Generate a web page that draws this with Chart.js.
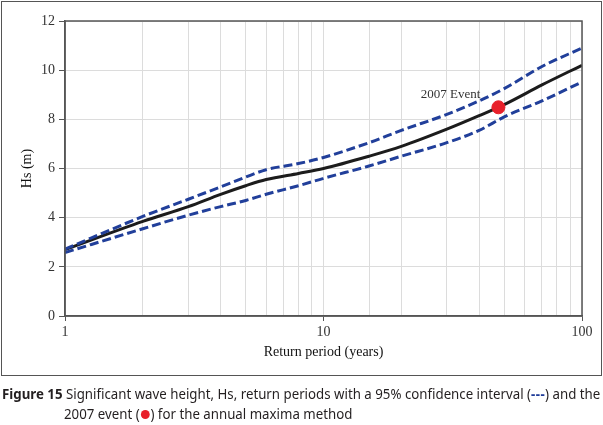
<!DOCTYPE html>
<html>
<head>
<meta charset="utf-8">
<script src="https://cdn.jsdelivr.net/npm/chart.js@4.4.0/dist/chart.umd.min.js"></script>
<style>
  html, body { margin: 0; padding: 0; background: #fff; }
  body { width: 603px; height: 425px; position: relative; overflow: hidden; }
  #frame { position: absolute; left: 1px; top: 1px; width: 599px; height: 373px; border: 1.5px solid #555; }
  #wrap { position: absolute; left: 0; top: 0; width: 603px; height: 376px; }
  #cap { position: absolute; left: 2px; top: 383px; font-family: "Noto Sans", sans-serif; font-size: 15px; line-height: 20px; color: #231f20; white-space: nowrap; transform-origin: 0 0; }
  #cap b { font-weight: 700; }
  .dash { color: #1f3c99; font-weight: 700; letter-spacing: 0.5px; }
  .dot { display: inline-block; width: 9px; height: 9px; border-radius: 50%; background: #e8202a; margin: 0 1px; vertical-align: 0px; }
</style>
</head>
<body>
<div id="wrap"><canvas id="c"></canvas></div>
<div id="frame"></div>
<div id="cap"><div id="c1"><b id="fig">Figure 15</b> Significant wave height, Hs, return periods with a 95% confidence interval (<span class="dash">---</span>) and the</div><div id="c2">2007 event (<span class="dot"></span>) for the annual maxima method</div></div>
<script>
// Data
const returnPeriods = [1, 2, 3, 4, 5, 6, 8, 10, 15, 20, 30, 40, 50, 70, 100];
const hsFit =         [2.7, 3.85, 4.45, 4.95, 5.3, 5.55, 5.8, 6.0, 6.5, 6.9, 7.6, 8.15, 8.6, 9.4, 10.2];
const hsUpper =       [2.72, 4.05, 4.75, 5.25, 5.65, 5.95, 6.2, 6.45, 7.05, 7.55, 8.2, 8.75, 9.25, 10.15, 10.9];
const hsLower =       [2.58, 3.55, 4.1, 4.45, 4.7, 4.95, 5.3, 5.6, 6.1, 6.5, 7.05, 7.55, 8.1, 8.75, 9.52];
const eventX = [47.5];
const eventY = [8.49];
const eventLabel = "2007 Event";
const yTicks = [0, 2, 4, 6, 8, 10, 12];
const xMajorTicks = [1, 10, 100];

const pts = (xs, ys) => xs.map((x, i) => ({ x: x, y: ys[i] }));

const frameBorder = {
  id: 'frameBorder',
  afterDatasetsDraw(chart) {
    const { ctx, chartArea: a } = chart;
    ctx.save();
    ctx.strokeStyle = '#555';
    ctx.lineWidth = 1.5;
    ctx.strokeRect(a.left, a.top, a.right - a.left, a.bottom - a.top);
    ctx.restore();
  }
};

const eventText = {
  id: 'eventText',
  afterDatasetsDraw(chart) {
    const { ctx, scales } = chart;
    const px = scales.x.getPixelForValue(eventX[0]);
    const py = scales.y.getPixelForValue(eventY[0]);
    ctx.save();
    ctx.font = '13px "Liberation Serif", serif';
    ctx.fillStyle = '#333';
    ctx.textAlign = 'right';
    ctx.textBaseline = 'alphabetic';
    ctx.fillText(eventLabel, px - 18, py - 9);
    ctx.restore();
  }
};

const tickFont = { family: '"Liberation Serif", serif', size: 14 };
const titleFont = { family: '"Liberation Serif", serif', size: 14 };

new Chart(document.getElementById('c'), {
  type: 'scatter',
  data: {
    datasets: [
      { label: 'event', data: pts(eventX, eventY), backgroundColor: '#e8202a', borderColor: '#e8202a', pointRadius: 6.5, pointHoverRadius: 6.5, showLine: false, order: 0 },
      { label: 'fit', data: pts(returnPeriods, hsFit), showLine: true, borderColor: '#1c1c1c', borderWidth: 3, pointRadius: 0, cubicInterpolationMode: 'monotone', order: 2 },
      { label: 'upper', data: pts(returnPeriods, hsUpper), showLine: true, borderColor: '#213f9a', borderWidth: 3, borderDash: [9, 4], pointRadius: 0, cubicInterpolationMode: 'monotone', order: 1 },
      { label: 'lower', data: pts(returnPeriods, hsLower), showLine: true, borderColor: '#213f9a', borderWidth: 3, borderDash: [9, 4], pointRadius: 0, cubicInterpolationMode: 'monotone', order: 1 }
    ]
  },
  options: {
    responsive: true,
    maintainAspectRatio: false,
    animation: false,
    events: [],
    layout: { padding: { top: 21, right: 21, left: 0, bottom: 0 } },
    plugins: { legend: { display: false }, tooltip: { enabled: false } },
    scales: {
      x: {
        type: 'logarithmic',
        min: 1, max: 100,
        afterFit(s) { s.height = 60; },
        grid: {
          color: '#dcdcdc', lineWidth: 1,
          tickLength: 5,
          tickColor: (c) => xMajorTicks.includes(c.tick && c.tick.value) ? '#555' : 'rgba(0,0,0,0)'
        },
        border: { color: '#555', width: 1.5 },
        ticks: {
          autoSkip: false, maxRotation: 0,
          font: tickFont, color: '#333', padding: 3,
          callback: (v) => xMajorTicks.includes(v) ? String(v) : ''
        },
        title: { display: true, text: 'Return period (years)', font: titleFont, color: '#111', padding: { top: 0, bottom: 15 } }
      },
      y: {
        min: 0, max: 12,
        afterFit(s) { s.width = 65; },
        afterBuildTicks(s) { s.ticks = yTicks.map(v => ({ value: v })); },
        grid: { color: '#dcdcdc', lineWidth: 1, tickLength: 6, tickColor: '#555' },
        border: { color: '#555', width: 1.5 },
        ticks: { font: tickFont, color: '#333', padding: 4 },
        title: { display: true, text: 'Hs (m)', font: titleFont, color: '#111', padding: { top: 19, bottom: 0 } }
      }
    }
  },
  plugins: [frameBorder, eventText]
});

// fit caption to the reference width, with a hanging indent under the text after "Figure 15"
const c1 = document.getElementById('c1');
const c2 = document.getElementById('c2');
const cap = document.getElementById('cap');
const w = c1.scrollWidth;
const target = 598;
if (w > 0) {
  const s = target / w;
  cap.style.transform = 'scaleX(' + s + ')';
  c2.style.paddingLeft = (62 / s) + 'px';
  document.querySelector('.dot').style.width = (9 / s) + 'px';
}
</script>
</body>
</html>
